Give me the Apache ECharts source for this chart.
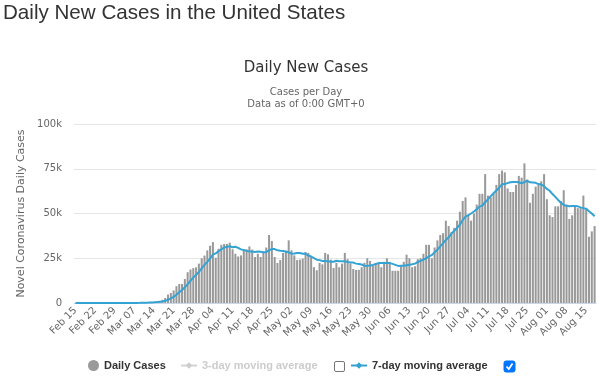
<!DOCTYPE html>
<html>
<head>
<meta charset="utf-8">
<script src="https://cdn.jsdelivr.net/npm/echarts@6/dist/echarts.min.js"></script>
<style>
html,body{margin:0;padding:0;background:#fff;}
#chart{width:600px;height:381px;}
</style>
</head>
<body>
<div id="chart"></div>
<script>
var categories = (
 "Feb 15,Feb 16,Feb 17,Feb 18,Feb 19,Feb 20,Feb 21,Feb 22,Feb 23,Feb 24,Feb 25,Feb 26,Feb 27,Feb 28,Feb 29," +
 "Mar 01,Mar 02,Mar 03,Mar 04,Mar 05,Mar 06,Mar 07,Mar 08,Mar 09,Mar 10,Mar 11,Mar 12,Mar 13,Mar 14,Mar 15,Mar 16,Mar 17,Mar 18,Mar 19,Mar 20,Mar 21,Mar 22,Mar 23,Mar 24,Mar 25,Mar 26,Mar 27,Mar 28,Mar 29,Mar 30,Mar 31," +
 "Apr 01,Apr 02,Apr 03,Apr 04,Apr 05,Apr 06,Apr 07,Apr 08,Apr 09,Apr 10,Apr 11,Apr 12,Apr 13,Apr 14,Apr 15,Apr 16,Apr 17,Apr 18,Apr 19,Apr 20,Apr 21,Apr 22,Apr 23,Apr 24,Apr 25,Apr 26,Apr 27,Apr 28,Apr 29,Apr 30," +
 "May 01,May 02,May 03,May 04,May 05,May 06,May 07,May 08,May 09,May 10,May 11,May 12,May 13,May 14,May 15,May 16,May 17,May 18,May 19,May 20,May 21,May 22,May 23,May 24,May 25,May 26,May 27,May 28,May 29,May 30,May 31," +
 "Jun 01,Jun 02,Jun 03,Jun 04,Jun 05,Jun 06,Jun 07,Jun 08,Jun 09,Jun 10,Jun 11,Jun 12,Jun 13,Jun 14,Jun 15,Jun 16,Jun 17,Jun 18,Jun 19,Jun 20,Jun 21,Jun 22,Jun 23,Jun 24,Jun 25,Jun 26,Jun 27,Jun 28,Jun 29,Jun 30," +
 "Jul 01,Jul 02,Jul 03,Jul 04,Jul 05,Jul 06,Jul 07,Jul 08,Jul 09,Jul 10,Jul 11,Jul 12,Jul 13,Jul 14,Jul 15,Jul 16,Jul 17,Jul 18,Jul 19,Jul 20,Jul 21,Jul 22,Jul 23,Jul 24,Jul 25,Jul 26,Jul 27,Jul 28,Jul 29,Jul 30,Jul 31," +
 "Aug 01,Aug 02,Aug 03,Aug 04,Aug 05,Aug 06,Aug 07,Aug 08,Aug 09,Aug 10,Aug 11,Aug 12,Aug 13,Aug 14,Aug 15,Aug 16,Aug 17,Aug 18"
).split(",");

var dailyFeb = [0,0,0,0,0,0,0,0,0,0,0,0,0,0,0];
var dailyMar = [8,20,22,31,70,68,124,116,180,292,313,434,596,682,1000,1200,1800,2800,4700,5600,7000,9400,10600,10600,13400,17200,18700,19500,19900,22000,25000];
var dailyApr = [26500,29400,32000,34000,25300,30300,32500,33000,33000,33700,30000,27500,26000,26600,30000,30000,31600,29800,25700,27500,25700,28500,31000,38000,34600,25700,22400,24000,28000,28500];
var dailyMay = [35000,29400,26600,24000,24200,24800,28500,28000,25700,20000,18300,22400,21600,28000,27200,24200,19600,22400,20000,22000,28000,24500,22000,19000,18500,18500,20000,22500,25000,23500,21000];
var dailyJun = [22000,22000,20000,23000,25000,23000,18000,18000,18000,20500,23000,27000,25000,20000,20500,24500,25000,27500,32500,32500,25000,31000,35000,38000,39000,46000,43000,39500,42000,46000];
var dailyJul = [51000,57000,59000,49000,46000,50000,55000,61000,61000,72000,60000,59000,61000,66000,72000,74000,73000,64000,62000,62000,66000,71000,70000,78000,69000,56000,61000,65000,66000,68000,72000];
var dailyAug = [58000,49000,48000,54000,54000,57000,63000,55000,47000,49000,54000,53000,53000,60000,53000,37000,40000,43000];

var avg7Feb = [0,0,0,0,0,0,0,0,0,0,0,0,0,0,0];
var avg7Mar = [1,4,7,12,22,31,49,64,87,126,166,218,294,373,500,645,861,1216,1825,2540,3443,4643,5986,7243,8757,10543,12414,14200,15700,17329,19386];
var avg7Apr = [21257,23000,24900,26971,27743,28929,30000,30929,31443,31686,31114,31429,30814,29971,29543,29114,28814,28786,28529,28743,28614,28400,28543,29457,30143,30143,29414,29171,29100,28743];
var avg7May = [28314,27571,27700,27929,27957,27500,27500,26500,25971,25029,24214,23957,23500,23429,23314,23100,23043,23629,23286,23343,23343,22957,22643,22557,22000,21786,21500,20714,20786,21000,21286];
var avg7Jun = [21786,22286,22286,22357,22357,22286,21857,21286,20714,20786,20786,21071,21357,21643,22000,22929,23571,24214,25000,26071,26786,28286,29786,31643,33286,35214,36714,38786,40357,41929];
var avg7Jul = [43786,46357,48214,49071,50000,51143,52429,53857,54429,56286,57857,59714,61286,62857,64429,66286,66429,67000,67429,67571,67571,67429,66857,67571,68286,67429,67286,67143,66429,66143,65286];
var avg7Aug = [63714,62714,60857,59286,57571,56000,54714,54286,54000,54143,54143,54000,53429,53000,52714,51286,50000,48429];

var yTicks = [0, 25000, 50000, 75000, 100000];
var yTickLabels = ["0", "25k", "50k", "75k", "100k"];

var dailyCases = [].concat(dailyFeb, dailyMar, dailyApr, dailyMay, dailyJun, dailyJul, dailyAug);
var avg7 = [].concat(avg7Feb, avg7Mar, avg7Apr, avg7May, avg7Jun, avg7Jul, avg7Aug);

var FONT = "DejaVu Sans";
var LEG = {fontFamily: 'Liberation Sans', fontSize: 11, fontWeight: 'bold', color: '#333'};
var chart = echarts.init(document.getElementById('chart'), null, {renderer: 'canvas'});
var option = {
  animation: false,
  backgroundColor: '#fff',
  textStyle: {fontFamily: FONT},
  grid: {left: 74, right: 4, top: 124, bottom: 78, containLabel: false},
  graphic: [
    {type: 'text', left: 3, top: 3, style: {text: 'Daily New Cases in the United States', font: 'normal 20.6px "Liberation Sans"', fill: '#333'}},
    {type: 'text', x: 306, y: 61, style: {text: 'Daily New Cases', font: 'normal 15px "DejaVu Sans"', fill: '#333', textAlign: 'center'}},
    {type: 'text', x: 306, y: 87, style: {text: 'Cases per Day', font: 'normal 10px "DejaVu Sans"', fill: '#666', textAlign: 'center'}},
    {type: 'text', x: 306, y: 99, style: {text: 'Data as of 0:00 GMT+0', font: 'normal 10px "DejaVu Sans"', fill: '#666', textAlign: 'center'}},
    {type: 'rect', shape: {x: 334.5, y: 361.5, width: 10, height: 10, r: 1.5}, style: {fill: '#fff', stroke: '#767676', lineWidth: 1}},
    {type: 'rect', shape: {x: 504, y: 361, width: 11, height: 11, r: 2}, style: {fill: '#0075ff', stroke: '#0075ff'}},
    {type: 'polyline', shape: {points: [[506.5, 366.5], [508.8, 369], [512.5, 363.5]]}, style: {stroke: '#fff', lineWidth: 1.8, fill: null}}
  ],
  legend: [
    {data: [{name: 'Daily Cases', icon: 'circle'}], left: 83, top: 355, itemWidth: 11, itemHeight: 11, itemGap: 5, textStyle: LEG},
    {data: ['3-day moving average'], left: 175, top: 355, itemWidth: 16, itemHeight: 8, inactiveColor: '#ccc',
     selected: {'3-day moving average': false}, textStyle: LEG},
    {data: ['7-day moving average'], left: 345, top: 355, itemWidth: 16, itemHeight: 8, textStyle: LEG}
  ],
  xAxis: {
    type: 'category',
    data: categories,
    boundaryGap: true,
    axisLine: {lineStyle: {color: '#ccd6eb'}},
    axisTick: {show: false},
    axisLabel: {interval: 6, rotate: 45, fontSize: 10, color: '#666', margin: 6, fontFamily: FONT}
  },
  yAxis: {
    type: 'value',
    min: 0, max: 100000, interval: 25000,
    name: 'Novel Coronavirus Daily Cases',
    nameLocation: 'middle',
    nameGap: 44,
    nameTextStyle: {color: '#666', fontSize: 11, fontFamily: FONT},
    axisLine: {show: false},
    axisTick: {show: false},
    splitLine: {lineStyle: {color: '#e6e6e6'}},
    axisLabel: {color: '#666', fontSize: 10, margin: 12, fontFamily: FONT,
      formatter: function (v) { var k = yTicks.indexOf(v); return k >= 0 ? yTickLabels[k] : ''; }}
  },
  series: [
    {name: 'Daily Cases', type: 'bar', data: dailyCases, barCategoryGap: '28%',
     itemStyle: {color: '#999999'}},
    {name: '3-day moving average', type: 'line', data: [], symbol: 'diamond', showSymbol: false,
     itemStyle: {color: '#cccccc'}, lineStyle: {color: '#cccccc', width: 2}},
    {name: '7-day moving average', type: 'line', data: avg7, symbol: 'diamond', symbolSize: 8, showSymbol: false,
     itemStyle: {color: '#33a3d4'}, lineStyle: {color: '#33a3d4', width: 2}}
  ]
};
chart.setOption(option);
</script>
</body>
</html>
